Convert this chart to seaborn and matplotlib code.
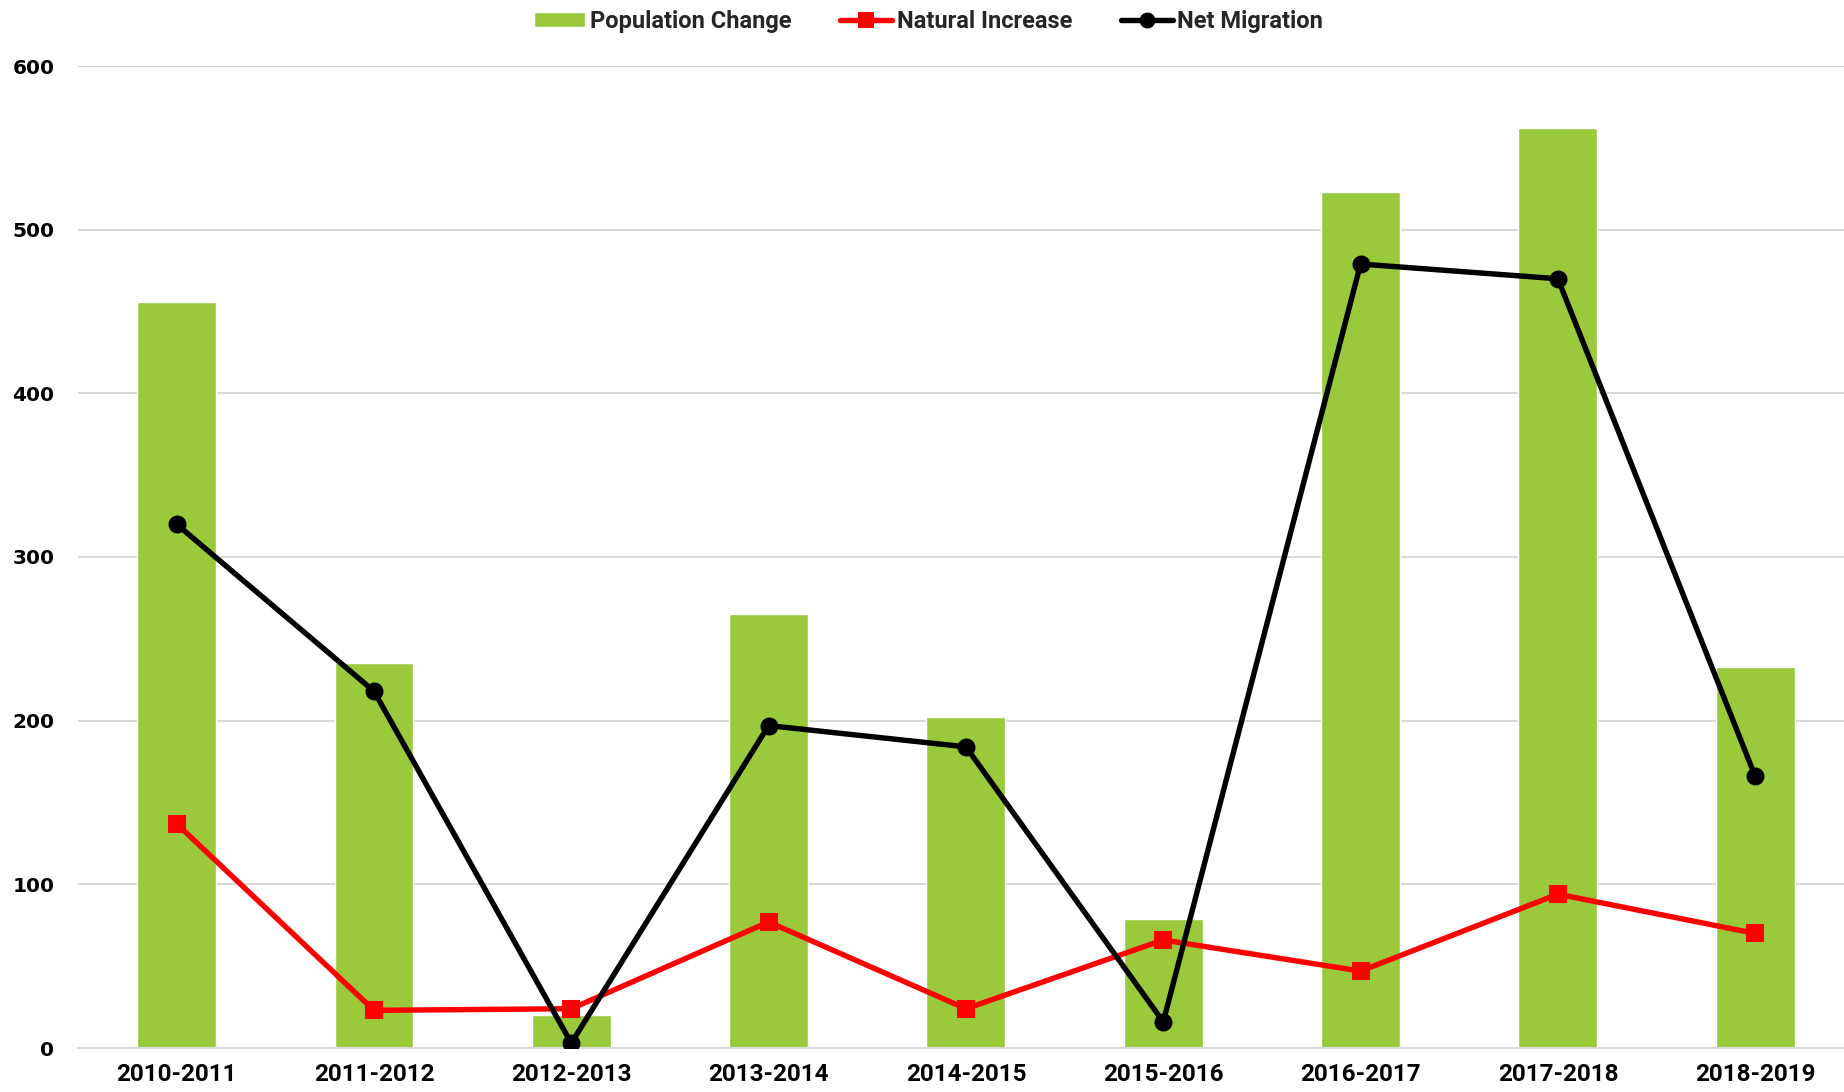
import matplotlib
matplotlib.use("Agg")
import matplotlib.pyplot as plt
import seaborn as sns
import pandas as pd

periods = ["2010-2011", "2011-2012", "2012-2013", "2013-2014", "2014-2015",
           "2015-2016", "2016-2017", "2017-2018", "2018-2019"]
population_change = [456, 235, 20, 265, 202, 79, 523, 562, 233]
natural_increase = [137, 23, 24, 77, 24, 66, 47, 94, 70]
net_migration = [320, 218, 3, 197, 184, 16, 479, 470, 166]
y_ticks = [0, 100, 200, 300, 400, 500, 600]

sns.set_theme(style="white")
plt.rcParams['font.family'] = ['Roboto', 'DejaVu Sans']

df = pd.DataFrame({"Period": periods,
                   "Population Change": population_change,
                   "Natural Increase": natural_increase,
                   "Net Migration": net_migration})

fig = plt.figure(figsize=(18.44, 10.92), dpi=100)
ax = fig.add_axes([78 / 1844, 44 / 1092, 1766 / 1844, 982 / 1092])

sns.barplot(data=df, x="Period", y="Population Change", color="#9ACA3C",
            saturation=1, width=0.40, label="Population Change", ax=ax, zorder=2)
sns.pointplot(data=df, x="Period", y="Natural Increase", color="#FF0000",
              markers="s", linestyles="-", errorbar=None, label="Natural Increase",
              ax=ax, markersize=9.5, linewidth=3.9, zorder=3)
sns.pointplot(data=df, x="Period", y="Net Migration", color="#000000",
              markers="o", linestyles="-", errorbar=None, label="Net Migration",
              ax=ax, markersize=10, linewidth=3.9, zorder=4)

ax.set_xlim(-0.5, 8.45)
ax.set_ylim(0, 600)
ax.set_yticks(y_ticks)
ax.set_yticklabels([str(v) for v in y_ticks], family="DejaVu Sans",
                   fontweight="bold", fontsize=14.5)
ax.set_xticks(range(len(periods)))
ax.set_xticklabels(periods, fontweight="bold", fontsize=17.5)
ax.tick_params(axis="y", length=0, pad=17, colors="black")
ax.tick_params(axis="x", length=0, pad=11, colors="black")
ax.set_xlabel("")
ax.set_ylabel("")
ax.yaxis.grid(True, color="#D9D9D9", linewidth=1.5, zorder=0)
ax.set_axisbelow(True)
for s in ["top", "right", "left"]:
    ax.spines[s].set_visible(False)
ax.spines["bottom"].set_color("#D9D9D9")
ax.spines["bottom"].set_linewidth(1.5)

handles, labels = ax.get_legend_handles_labels()
order = ["Population Change", "Natural Increase", "Net Migration"]
hl = dict(zip(labels, handles))
leg = ax.legend([hl[k] for k in order], order,
                loc="upper center", bbox_to_anchor=(0.4815, 1.067),
                ncol=3, frameon=False, prop={"family": "Roboto", "weight": "bold", "size": 17},
                handlelength=2.2, handleheight=0.6, handletextpad=0.2,
                columnspacing=2.05, borderaxespad=0, markerscale=0.85)

fig.savefig("out.png", dpi=100)
